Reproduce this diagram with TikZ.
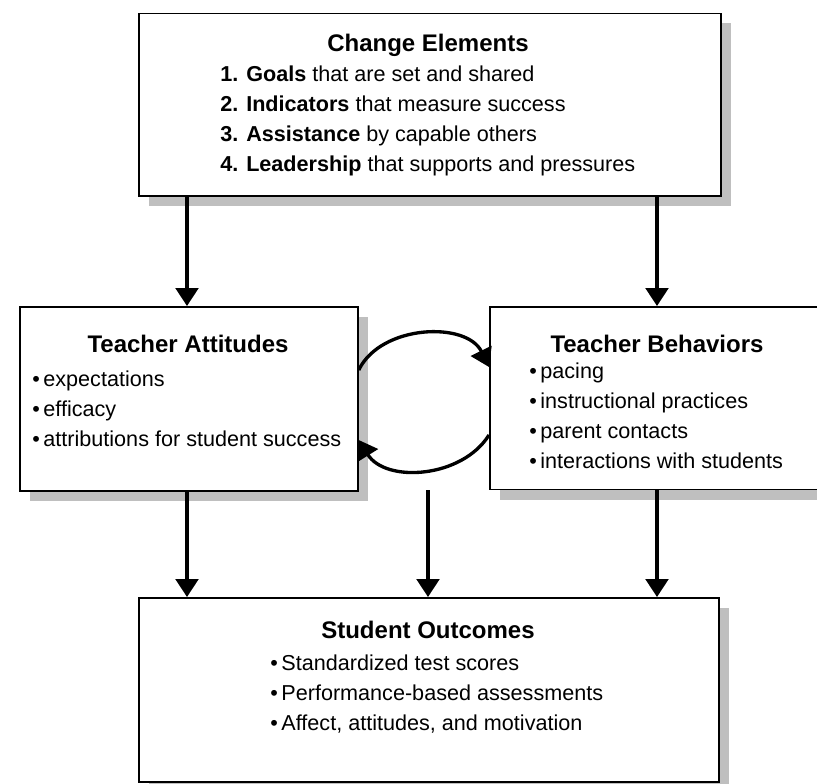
\documentclass[tikz,border=0pt]{standalone}
\usepackage{fontspec}
\setmainfont{Liberation Sans}
\usetikzlibrary{arrows.meta,positioning,shadows}
\tikzset
{
    stagebox/.style = {rectangle, draw=black, line width=1.3pt, fill=white, anchor=north west, inner sep=0pt,
                       drop shadow={shadow xshift=7.5pt, shadow yshift=-7.5pt, fill=black!25, opacity=1}},
    boxtitle/.style = {font=\fontsize{18}{22}\selectfont\bfseries, inner sep=0pt},
    boxlist/.style  = {font=\fontsize{16.2}{22.5}\selectfont, align=left, anchor=north west, inner sep=0pt},
    flow/.style     = {line width=2.5pt, -{Triangle[length=13.5pt,width=17pt]}}
}
\newcommand{\itm}{\textbullet\,}

\begin{document}
\begin{tikzpicture}[x=0.75pt, y=0.75pt]
\useasboundingbox (0,0) rectangle (817,-783);

% boxes
\node (change)   [stagebox, minimum width=436.5pt, minimum height=137pt] at (138,-12.5) {};
\node (attitude) [stagebox, minimum width=253.5pt, minimum height=138pt] at (19,-306)   {};
\node (behavior) [stagebox, minimum width=256pt,   minimum height=137pt] at (489,-306)  {};
\node (outcome)  [stagebox, minimum width=435pt,   minimum height=138pt] at (138,-597)  {};

% texts
\node (changet)  [boxtitle] at (428,-45)  {Change Elements};
\node (changel)  [boxlist]  at (220,-66)  {\textbf{1. Goals} that are set and shared\\
                                           \textbf{2. Indicators} that measure success\\
                                           \textbf{3. Assistance} by capable others\\
                                           \textbf{4. Leadership} that supports and pressures};
\node (attitudet)[boxtitle] at (188,-344) {Teacher Attitudes};
\node (attitudel)[boxlist]  at (32,-371)  {\itm expectations\\ \itm efficacy\\ \itm attributions for student success};
\node (behaviort)[boxtitle] at (657,-344) {Teacher Behaviors};
\node (behaviorl)[boxlist]  at (529,-363) {\itm pacing\\ \itm instructional practices\\ \itm parent contacts\\ \itm interactions with students};
\node (outcomet) [boxtitle] at (428,-630) {Student Outcomes};
\node (outcomel) [boxlist]  at (270,-655) {\itm Standardized test scores\\ \itm Performance-based assessments\\ \itm Affect, attitudes, and motivation};

\coordinate (colL) at (187,0);
\coordinate (colM) at (428,-490);
\coordinate (colR) at (657,0);

% arrows
\draw[flow] (change.south -| colL) -- (attitude.north -| colL);
\draw[flow] (change.south -| colR) -- (behavior.north -| colR);
\draw[flow] (attitude.south -| colL) -- (outcome.north -| colL);
\draw[flow] (colM) -- (outcome.north -| colM);
\draw[flow] (behavior.south -| colR) -- (outcome.north -| colR);

% loop between attitudes and behaviors
\draw[flow] (attitude.east |- 0,-370) to[out=64,in=116] (behavior.west |- 0,-367);
\draw[flow] (behavior.west |- 0,-435) to[out=-122,in=-58] (attitude.east |- 0,-440);
\end{tikzpicture}
\end{document}
